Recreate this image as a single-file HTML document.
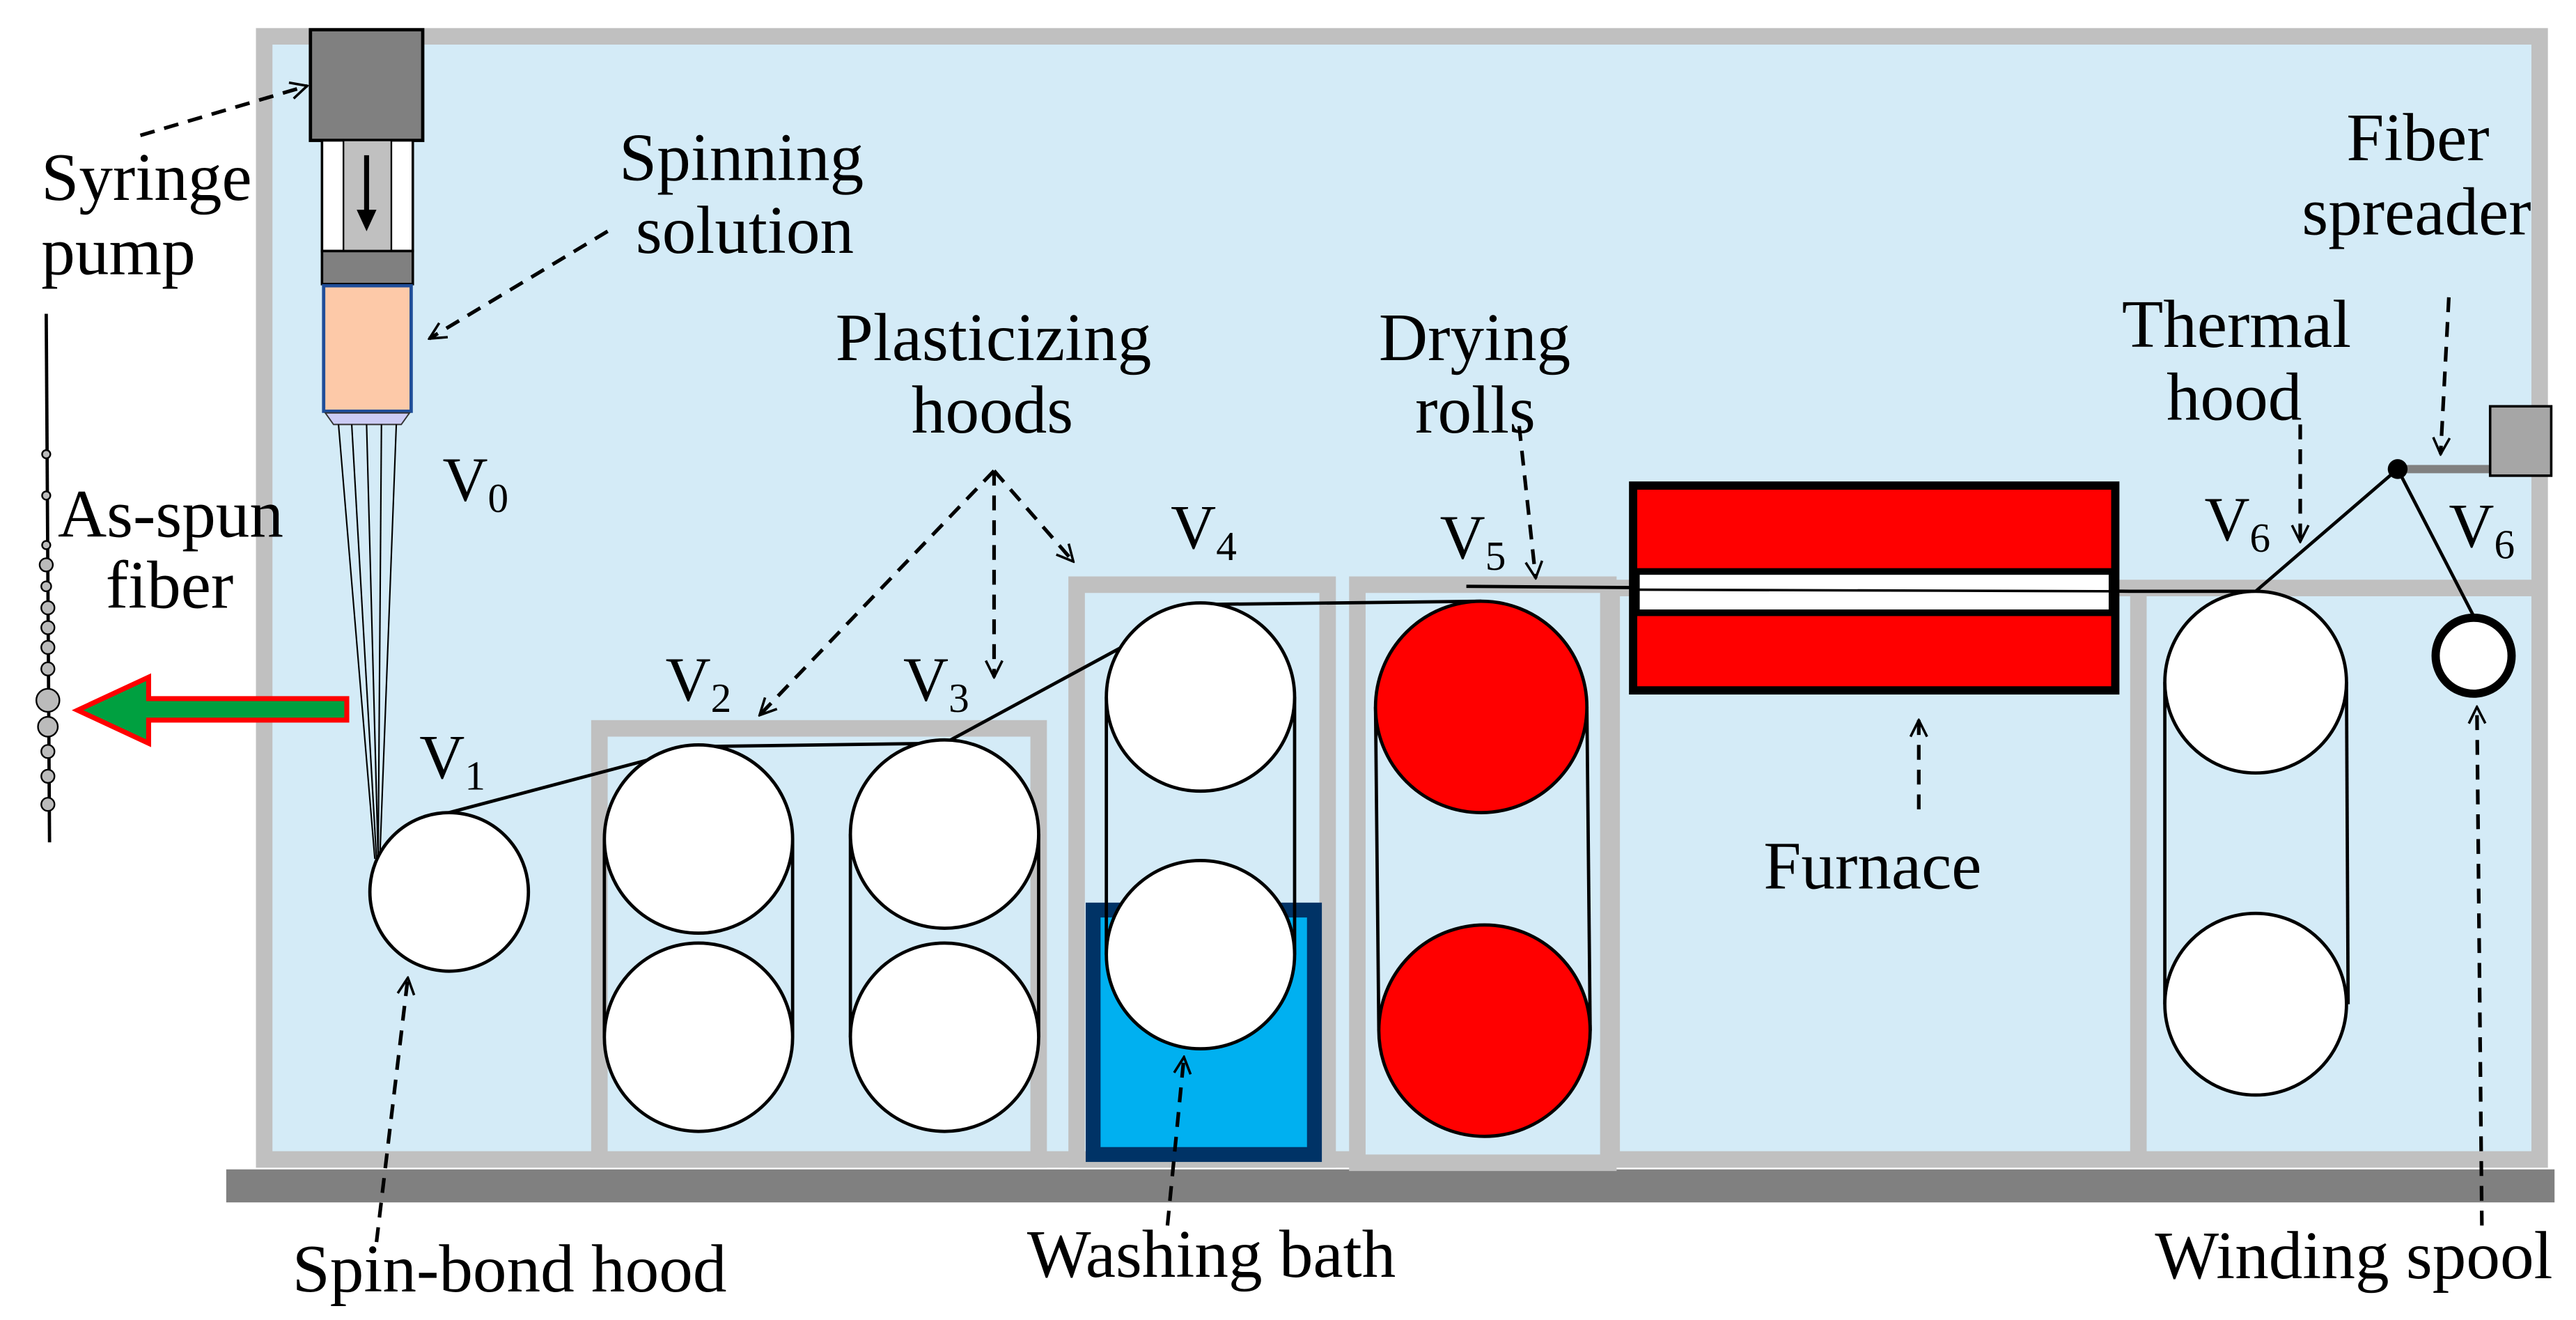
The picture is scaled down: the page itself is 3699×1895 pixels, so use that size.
<!DOCTYPE html>
<html><head><meta charset="utf-8"><style>
html,body{margin:0;padding:0;background:#fff}
svg{display:block}
text{font-family:"Liberation Serif",serif;fill:#000}
</style></head><body>
<svg width="3699" height="1895" viewBox="0 0 1560 799.2" preserveAspectRatio="none" xmlns="http://www.w3.org/2000/svg">
<defs>
<marker id="ah" viewBox="0 0 12 12" refX="11" refY="6" markerWidth="12" markerHeight="12" orient="auto" markerUnits="userSpaceOnUse">
<path d="M1,1 L11,6 L1,11" fill="none" stroke="#000" stroke-width="1.5"/></marker>
</defs>
<rect x="160" y="22" width="1378" height="680" fill="#d4ebf7" stroke="#c0c0c0" stroke-width="10"/>
<rect x="137" y="708" width="1410" height="20" fill="#808080"/>
<rect x="363" y="441" width="266" height="261" fill="#d4ebf7" stroke="#c0c0c0" stroke-width="10"/>
<rect x="652" y="354" width="152" height="348" fill="#d4ebf7" stroke="#c0c0c0" stroke-width="10"/>
<rect x="822" y="354" width="152" height="350" fill="#d4ebf7" stroke="#c0c0c0" stroke-width="10"/>
<line x1="974" y1="356" x2="1538" y2="356" stroke="#c0c0c0" stroke-width="10"/>
<line x1="1295" y1="356" x2="1295" y2="702" stroke="#c0c0c0" stroke-width="10"/>
<line x1="978" y1="360" x2="978" y2="702" stroke="#c0c0c0" stroke-width="6"/>
<rect x="662" y="551" width="134" height="148" fill="#00b0f0" stroke="#003366" stroke-width="9"/>
<rect x="188" y="18" width="68" height="67" fill="#808080" stroke="#000" stroke-width="2"/>
<rect x="195" y="85" width="55" height="67" fill="#fff" stroke="#000" stroke-width="1.5"/>
<rect x="208" y="85" width="29" height="67" fill="#c0c0c0" stroke="#000" stroke-width="1"/>
<line x1="222" y1="94" x2="222" y2="130" stroke="#000" stroke-width="3"/>
<path d="M216,127 L228,127 L222,140 Z" fill="#000"/>
<rect x="195" y="152" width="55" height="20" fill="#808080" stroke="#000" stroke-width="1.5"/>
<rect x="196" y="173" width="53" height="76" fill="#fdc9a8" stroke="#1f4e99" stroke-width="2"/>
<path d="M197,250 L248,250 L243,257 L202,257 Z" fill="#ccccf5" stroke="#333" stroke-width="0.8"/>
<g stroke="#000" stroke-width="0.9" fill="none">
<path d="M205,257 L227,520"/><path d="M213,257 L228,520"/><path d="M222,257 L229,520"/><path d="M231,257 L229,520"/><path d="M240,257 L230,520"/>
</g>
<g stroke="#000" stroke-width="2" fill="none">
<path d="M272,492 L423,452 L572,450 L727,366 L897,364"/>
<path d="M888,355 L1290,358 L1366,358 L1452,284 L1498,373"/>
<line x1="366" y1="508" x2="366" y2="628"/><line x1="480" y1="508" x2="480" y2="628"/>
<line x1="515" y1="505" x2="515" y2="628"/><line x1="629" y1="505" x2="629" y2="628"/>
<line x1="670" y1="422" x2="670" y2="578"/><line x1="784" y1="422" x2="784" y2="578"/>
<line x1="833" y1="428" x2="835" y2="624"/><line x1="961" y1="428" x2="963" y2="624"/>
<line x1="1311" y1="413" x2="1311" y2="608"/><line x1="1421" y1="413" x2="1422" y2="608"/>
</g>
<g stroke="#000" stroke-width="2">
<circle cx="272" cy="540" r="48" fill="#fff"/>
<circle cx="423" cy="508" r="57" fill="#fff"/><circle cx="423" cy="628" r="57" fill="#fff"/>
<circle cx="572" cy="505" r="57" fill="#fff"/><circle cx="572" cy="628" r="57" fill="#fff"/>
<circle cx="727" cy="422" r="57" fill="#fff"/><circle cx="727" cy="578" r="57" fill="#fff"/>
<circle cx="897" cy="428" r="64" fill="#ff0000"/><circle cx="899" cy="624" r="64" fill="#ff0000"/>
<circle cx="1366" cy="413" r="55" fill="#fff"/><circle cx="1366" cy="608" r="55" fill="#fff"/>
</g>
<circle cx="1498" cy="397" r="23" fill="#fff" stroke="#000" stroke-width="5"/>
<rect x="989" y="294" width="292" height="124" fill="#ff0000" stroke="#000" stroke-width="5"/>
<rect x="991" y="346" width="288" height="25" fill="#fff" stroke="#000" stroke-width="4"/>
<line x1="988" y1="357" x2="1283" y2="358" stroke="#000" stroke-width="1.5"/>
<line x1="1452" y1="284" x2="1510" y2="284" stroke="#808080" stroke-width="5"/>
<rect x="1508" y="246" width="37" height="42" fill="#a6a6a6" stroke="#000" stroke-width="1.5"/>
<circle cx="1452" cy="284" r="6" fill="#000"/>
<line x1="28" y1="190" x2="30" y2="510" stroke="#000" stroke-width="2"/>
<g fill="#bbb" stroke="#000" stroke-width="1">
<circle cx="28" cy="275" r="2.5"/><circle cx="28" cy="300" r="2.5"/><circle cx="28" cy="330" r="2.5"/>
<circle cx="28" cy="342" r="4"/><circle cx="28" cy="355" r="3"/><circle cx="29" cy="368" r="4"/><circle cx="29" cy="380" r="4"/>
<circle cx="29" cy="392" r="4"/><circle cx="29" cy="405" r="4"/><circle cx="29" cy="424" r="7"/><circle cx="29" cy="440" r="6"/>
<circle cx="29" cy="455" r="4"/><circle cx="29" cy="470" r="4"/><circle cx="29" cy="487" r="4"/>
</g>
<path d="M210,423 L90,423 L90,410 L47,430 L90,450 L90,436 L210,436 Z" fill="#00a040" stroke="#ff0000" stroke-width="3"/>
<g stroke="#000" stroke-width="2.2" fill="none" stroke-dasharray="9,6" marker-end="url(#ah)">
<path d="M85,82 L186,52"/>
<path d="M368,140 L260,205"/>
<path d="M602,285 L460,433"/>
<path d="M602,285 L602,410"/>
<path d="M602,285 L650,340"/>
<path d="M920,258 L930,350"/>
<path d="M1393,257 L1393,328"/>
<path d="M1483,180 L1478,275"/>
<path d="M228,752 L247,592"/>
<path d="M707,742 L717,640"/>
<path d="M1162,490 L1162,436"/>
<path d="M1503,742 L1500,428"/>
</g>
<g font-size="41">
<text x="25" y="121">Syringe</text><text x="25" y="166">pump</text>
<text x="375" y="109">Spinning</text><text x="385" y="153">solution</text>
<text x="506" y="218">Plasticizing</text><text x="552" y="262">hoods</text>
<text x="835" y="218">Drying</text><text x="857" y="262">rolls</text>
<text x="1285" y="210">Thermal</text><text x="1312" y="254">hood</text>
<text x="1421" y="97">Fiber</text><text x="1394" y="142">spreader</text>
<text x="35" y="325">As-spun</text><text x="64" y="368">fiber</text>
<text x="1068" y="538">Furnace</text>
<text x="177" y="782">Spin-bond hood</text>
<text x="622" y="773">Washing bath</text>
<text x="1305" y="774">Winding spool</text>
</g>
<g font-size="38">
<text x="268" y="303">V<tspan font-size="25" dy="7">0</tspan></text>
<text x="254" y="471">V<tspan font-size="25" dy="7">1</tspan></text>
<text x="403" y="424">V<tspan font-size="25" dy="7">2</tspan></text>
<text x="547" y="424">V<tspan font-size="25" dy="7">3</tspan></text>
<text x="709" y="332">V<tspan font-size="25" dy="7">4</tspan></text>
<text x="872" y="338">V<tspan font-size="25" dy="7">5</tspan></text>
<text x="1335" y="327">V<tspan font-size="25" dy="7">6</tspan></text>
<text x="1483" y="331">V<tspan font-size="25" dy="7">6</tspan></text>
</g>
</svg>
</body></html>
